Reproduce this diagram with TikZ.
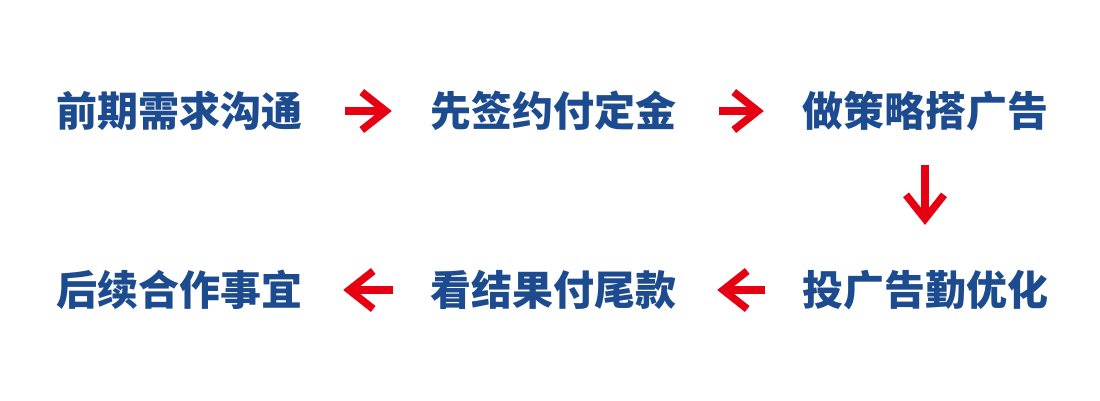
\documentclass[tikz,border=0pt]{standalone}
\usepackage{fontspec}
\newfontfamily\cjk{Noto Sans CJK SC}
\usetikzlibrary{arrows.meta}
\definecolor{stepblue}{HTML}{1D4B8F}
\definecolor{flowred}{HTML}{E60012}

\begin{document}
\begin{tikzpicture}[x=1pt, y=-1pt,
	every node/.style={inner sep=0pt, text=stepblue, font=\cjk\bfseries\fontsize{41pt}{41pt}\selectfont},
	flow/.style={draw=flowred, line width=7.5pt, -{Straight Barb[length=24pt, width=38pt]}}]
				\useasboundingbox (0,0) rectangle (1100,400);
				\node (a1) at (179,111){前期需求沟通};
				\node (a2) at (553,111){先签约付定金};
				\node (a3) at (925,111){做策略搭广告};
				\node (b1) at (179,290){后续合作事宜};
				\node (b2) at (553,290){看结果付尾款};
				\node (b3) at (925,290){投广告勤优化};
				
				\draw[flow] ([xshift=43pt]a1.east) -- ([xshift=-38pt]a2.west);
				\draw[flow] ([xshift=43pt]a2.east) -- ([xshift=-38pt]a3.west);
				\draw[flow] ([yshift=-34pt]a3.south) -- ([yshift=45pt]b3.north);
				\draw[flow] ([xshift=-37pt]b3.west) -- ([xshift=41pt]b2.east);
				\draw[flow] ([xshift=-37pt]b2.west) -- ([xshift=41pt]b1.east);
				\end{tikzpicture}
\end{document}
